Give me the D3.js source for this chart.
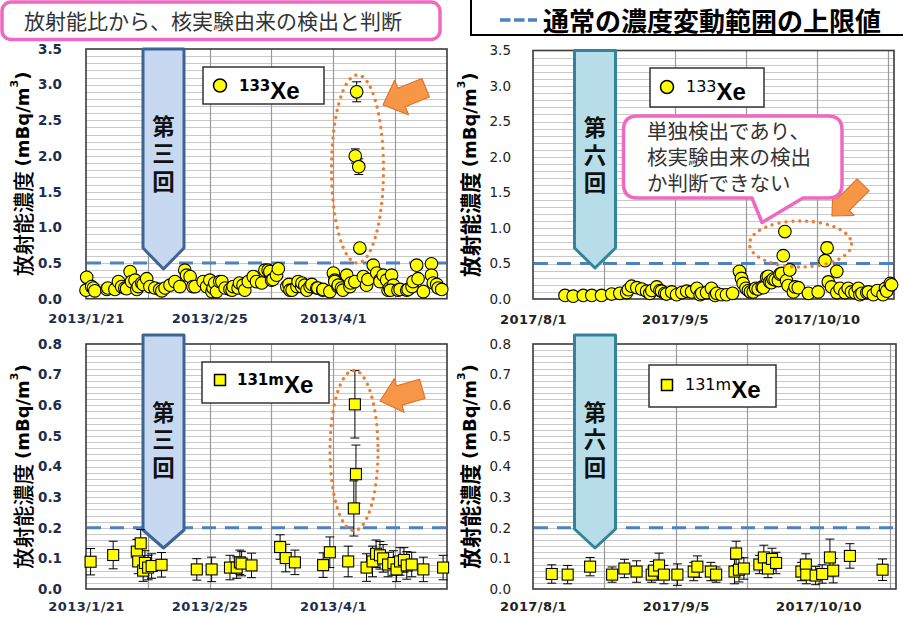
<!DOCTYPE html>
<html><head><meta charset="utf-8">
<script src="https://cdn.jsdelivr.net/npm/d3@7"></script>
<style>
html,body{margin:0;padding:0;background:#fff;}
#wrap{position:relative;width:903px;height:617px;}
svg{display:block;}
.balloon-text{position:absolute;margin:0;font-family:'Noto Sans CJK JP','Noto Sans CJK SC',sans-serif;
  font-size:20.5px;line-height:26px;color:#333;white-space:pre-line;}
</style></head>
<body>
<div id="wrap"><svg id="chart" width="903" height="617"></svg></div>
<script>
// ---------- data ----------
// sampling periods (day offsets are counted from these start dates)
const start2013 = "2013-01-21";
const start2017 = "2017-08-01";
const dateTickDays = [0, 35, 70];
const gridStepDays = 17.5;
const span2013 = 102.3;
const span2017 = 89;

const xe133Ticks = [0, 0.5, 1, 1.5, 2, 2.5, 3, 3.5];
const xe131mTicks = [0, 0.1, 0.2, 0.3, 0.4, 0.5, 0.6, 0.7, 0.8];
const xe133Limit = 0.5;   // upper bound of normal variation (mBq/m3)
const xe131mLimit = 0.2;

// [days since start, concentration mBq/m3, uncertainty]
const xe133_2013 = [
 [0.0,0.12],[0.2,0.30],[1.6,0.17],[2.1,0.15],[2.5,0.11],[5.9,0.13],[6.2,0.15],[8.2,0.13],[9.2,0.24],[10.1,0.17],
 [11.0,0.15],[11.5,0.14],[12.5,0.38],[12.9,0.24],[13.9,0.26],[14.4,0.13],[14.8,0.17],[15.8,0.22],[16.2,0.20],[17.2,0.28],
 [18.1,0.17],[19.5,0.15],[20.9,0.13],[21.5,0.11],[22.4,0.15],[23.8,0.19],[25.2,0.24],[26.6,0.17],[28.0,0.40],[28.5,0.33],
 [29.5,0.31],[30.3,0.17],[30.9,0.17],[33.2,0.24],[34.2,0.17],[35.1,0.26],[35.7,0.10],[36.0,0.15],[36.5,0.22],[37.0,0.10],
 [37.9,0.24],[38.5,0.24],[39.4,0.15],[40.8,0.13],[41.4,0.12],[41.7,0.17],[43.1,0.15],[43.5,0.22],[44.5,0.19],[45.0,0.12],
 [46.0,0.24],[47.4,0.31],[48.3,0.24],[49.8,0.22],[50.7,0.40],[51.6,0.40],[52.1,0.38],[52.6,0.26],[53.0,0.27],[54.0,0.33],
 [54.5,0.42],[56.9,0.17],[57.5,0.20],[57.8,0.12],[58.4,0.12],[59.8,0.17],[60.1,0.24],[61.1,0.17],[61.2,0.22],[62.0,0.19],
 [62.6,0.12],[63.5,0.17],[64.0,0.20],[65.4,0.15],[65.7,0.15],[67.1,0.12],[67.2,0.13],[69.1,0.10],[70.1,0.36],[70.5,0.26],
 [70.5,0.24],[71.4,0.17],[71.5,0.19],[72.4,0.15],[72.8,0.12],[73.9,0.33],[74.8,0.17],[75.0,0.22],[76.2,0.24],
 [76.7,2.90,0.14],[76.3,2.00,0.10],[77.3,1.85,0.11],[77.6,0.71,0.04],
 [78.6,0.31],[79.5,0.19],[79.9,0.27],[81.4,0.47,0.06],[82.4,0.36],[83.3,0.26],[83.3,0.24],[84.2,0.33],[85.2,0.26],[85.6,0.12],
 [86.1,0.15],[86.6,0.33],[87.1,0.19],[86.3,0.12],[88.4,0.12],[89.0,0.13],[90.9,0.12],[91.3,0.13],[92.4,0.17],[92.7,0.24],
 [93.7,0.47,0.06],[94.1,0.28],[95.6,0.10],[97.9,0.49,0.06],[97.9,0.33],[98.4,0.22],[99.4,0.20],[99.8,0.15],[100.8,0.13]
];

const xe133_2017 = [
 [7.9,0.05],[9.9,0.04],[12.4,0.05],[14.5,0.05],[16.9,0.05],[19.4,0.07],[21.4,0.08],[23.1,0.09],[23.5,0.13],[24.3,0.18],
 [25.6,0.16],[26.8,0.14],[28.0,0.11],[28.8,0.08],[29.3,0.12],[30.5,0.17],[31.3,0.12],[31.7,0.11],[32.5,0.08],[32.9,0.07],
 [34.2,0.10],[35.4,0.06],[36.7,0.09],[37.9,0.11],[39.1,0.10],[40.4,0.15],[41.2,0.06],[41.6,0.08],[42.8,0.09],[44.0,0.15],
 [44.9,0.05],[45.3,0.08],[46.5,0.06],[47.7,0.06],[49.2,0.08],[50.9,0.39],[51.4,0.29],[51.8,0.22],[52.5,0.15],[53.1,0.12],
 [53.6,0.10],[54.3,0.10],[54.9,0.15],[55.5,0.14],[56.5,0.17],[56.8,0.16],[57.6,0.31],[58.0,0.32],[58.4,0.24],[58.8,0.23],
 [59.2,0.28],[59.7,0.27],[60.5,0.26],[60.9,0.35],[61.3,0.36],[61.7,0.61],[62.1,0.95],[62.5,0.26],[62.9,0.19],[63.3,0.41],
 [64.2,0.10],[64.6,0.17],[65.4,0.16],[67.9,0.08],[70.3,0.10],[72.0,0.54,0.05],[72.5,0.72,0.08],[72.8,0.24],[73.6,0.17],
 [74.9,0.39],[74.9,0.09],[75.7,0.15],[76.9,0.09],[77.7,0.15],[78.5,0.10],[79.4,0.09],[80.2,0.15],[80.6,0.06],[81.1,0.08],
 [82.3,0.09],[82.7,0.10],[83.9,0.06],[84.9,0.12],[86.3,0.06],[86.9,0.15],[87.2,0.11],[88.1,0.22],[88.4,0.20]
];

const xe131m_2013 = [
 [1.3,0.089,0.043],[7.7,0.111,0.045],[14.4,0.122,0.040],[14.8,0.090,0.040],[15.5,0.149,0.045],[16.2,0.060,0.035],
 [16.7,0.085,0.040],[17.6,0.070,0.040],[18.6,0.075,0.040],[21.4,0.079,0.040],[31.4,0.064,0.035],[35.6,0.064,0.040],
 [40.8,0.070,0.040],[42.7,0.070,0.035],[43.6,0.087,0.040],[44.1,0.083,0.040],[46.9,0.077,0.040],[55.0,0.137,0.040],
 [56.6,0.101,0.045],[59.2,0.087,0.040],[67.2,0.078,0.040],[69.1,0.120,0.050],[74.3,0.090,0.050],
 [75.9,0.263,0.090],[76.5,0.375,0.095],[76.2,0.603,0.110],
 [79.5,0.070,0.045],[81.2,0.090,0.050],[82.2,0.115,0.045],[83.3,0.110,0.045],[84.2,0.100,0.045],[85.6,0.080,0.040],
 [87.1,0.085,0.040],[88.0,0.064,0.040],[89.0,0.090,0.045],[90.1,0.095,0.040],[90.9,0.077,0.045],[92.3,0.080,0.040],
 [95.6,0.064,0.040],[101.2,0.070,0.040]
];

const xe131m_2017 = [
 [4.6,0.049,0.030],[8.5,0.047,0.030],[14.0,0.073,0.030],[19.4,0.047,0.025],[22.4,0.067,0.030],[25.4,0.057,0.035],
 [29.1,0.047,0.025],[29.7,0.060,0.030],[30.9,0.077,0.040],[32.1,0.047,0.030],[35.4,0.047,0.035],[39.4,0.057,0.030],
 [40.3,0.073,0.035],[43.6,0.057,0.030],[44.9,0.047,0.025],[49.4,0.057,0.040],[49.8,0.116,0.040],[50.5,0.063,0.040],
 [51.7,0.067,0.035],[55.5,0.080,0.030],[56.6,0.103,0.040],[57.6,0.067,0.030],[58.6,0.098,0.035],[59.6,0.085,0.035],
 [65.8,0.057,0.030],[66.9,0.080,0.035],[67.0,0.047,0.030],[69.3,0.044,0.030],[70.9,0.049,0.030],[72.8,0.103,0.060],
 [73.6,0.060,0.040],[77.7,0.108,0.040],[85.7,0.063,0.035]
];

const balloonLines = ["単独検出であり、", "核実験由来の検出", "か判断できない"];

// ---------- drawing ----------
const svg = d3.select("#chart");
const fmtDate = d3.timeFormat("%Y/%-m/%-d");
const parseDate = d3.timeParse("%Y-%m-%d");
const CJK = "'Noto Sans CJK JP', 'Noto Sans CJK SC', sans-serif";
const NUM = "'DejaVu Sans', Verdana, sans-serif";
const PINK = "#ef69c2";
const LIMIT_BLUE = "#4f81bd";
const ORANGE = "#ed7d31";

const panels = [
  { data: xe133_2013, start: start2013, span: span2013, ticks: xe133Ticks, minor: 0.1, limit: xe133Limit,
    marker: "circle", left: 86, right: 447, top: 49, bottom: 298.7, bold: true, yPad: 24, xPad: 15,
    titleX: 22, event: { label: "第三回", fill: "#c6d9f1", stroke: "#3e6394", top: 49, shoulder: 248, tip: 269, cx: 163.5 },
    legend: { x: 203, y: 67, w: 121, h: 37, mx: 220, my: 85.5, mass: "133", tx: 239, base: 99 } },
  { data: xe133_2017, start: start2017, span: span2017, ticks: xe133Ticks, minor: 0.1, limit: xe133Limit,
    marker: "circle", left: 533, right: 894, top: 50.5, bottom: 299, bold: false, yPad: 22, xPad: 16,
    titleX: 469, event: { label: "第六回", fill: "#b7dee8", stroke: "#31849b", top: 50.5, shoulder: 248, tip: 268, cx: 595 },
    legend: { x: 650, y: 68, w: 114, h: 39, mx: 667, my: 87, mass: "133", tx: 686, base: 100 } },
  { data: xe131m_2013, start: start2013, span: span2013, ticks: xe131mTicks, minor: 0.02, limit: xe131mLimit,
    marker: "square", left: 86, right: 447, top: 344, bottom: 589, bold: true, yPad: 24, xPad: 12.5,
    titleX: 22, event: { label: "第三回", fill: "#c6d9f1", stroke: "#3e6394", top: 335, shoulder: 530, tip: 548, cx: 163.5 },
    legend: { x: 202, y: 362, w: 127, h: 41, mx: 220, my: 380, mass: "131m", tx: 237, base: 393 } },
  { data: xe131m_2017, start: start2017, span: span2017, ticks: xe131mTicks, minor: 0.02, limit: xe131mLimit,
    marker: "square", left: 533, right: 896, top: 344, bottom: 589, bold: false, yPad: 22, xPad: 12.5,
    titleX: 469, event: { label: "第六回", fill: "#b7dee8", stroke: "#31849b", top: 335, shoulder: 529, tip: 548, cx: 595 },
    legend: { x: 649, y: 365, w: 127, h: 42, mx: 667, my: 385, mass: "131m", tx: 685, base: 398 } }
];

function drawPanel(p) {
  const g = svg.append("g");
  const x = d3.scaleLinear().domain([0, p.span]).range([p.left, p.right]);
  const y = d3.scaleLinear().domain([0, d3.max(p.ticks)]).range([p.bottom, p.top]);
  const startDate = parseDate(p.start);

  g.append("rect").attr("x", p.left).attr("y", p.top)
    .attr("width", p.right - p.left).attr("height", p.bottom - p.top).attr("fill", "#fff");

  // horizontal grid
  const nMinor = Math.round(d3.max(p.ticks) / p.minor);
  g.append("g").selectAll("line").data(d3.range(1, nMinor)).join("line")
    .attr("x1", p.left).attr("x2", p.right)
    .attr("y1", i => Math.round(y(i * p.minor)) + 0.5).attr("y2", i => Math.round(y(i * p.minor)) + 0.5)
    .attr("stroke", "#c9c9c9").attr("stroke-width", 1);

  // vertical grid
  g.append("g").selectAll("line").data(d3.range(gridStepDays, p.span, gridStepDays)).join("line")
    .attr("x1", d => Math.round(x(d)) + 0.5).attr("x2", d => Math.round(x(d)) + 0.5)
    .attr("y1", p.top).attr("y2", p.bottom)
    .attr("stroke", "#9a9a9a").attr("stroke-width", 1.2);

  // frame
  g.append("rect").attr("x", p.left).attr("y", p.top)
    .attr("width", p.right - p.left).attr("height", p.bottom - p.top)
    .attr("fill", "none").attr("stroke", "#3a3a3a").attr("stroke-width", 1.6);

  // normal-range upper limit
  g.append("line").attr("x1", p.left + 1).attr("x2", p.right - 1)
    .attr("y1", y(p.limit)).attr("y2", y(p.limit))
    .attr("stroke", LIMIT_BLUE).attr("stroke-width", 3).attr("stroke-dasharray", "14,9");

  // nuclear test marker (downward block arrow with vertical caption)
  const e = p.event, hw = 20.5;
  g.append("path")
    .attr("d", `M${e.cx - hw},${e.top} H${e.cx + hw} V${e.shoulder} L${e.cx},${e.tip} L${e.cx - hw},${e.shoulder} Z`)
    .attr("fill", e.fill).attr("stroke", e.stroke).attr("stroke-width", 3).attr("stroke-linejoin", "round");
  g.append("text")
    .attr("x", e.cx).attr("y", e.top + 66)
    .style("writing-mode", "vertical-rl")
    .attr("letter-spacing", 5)
    .attr("font-family", CJK).attr("font-weight", 700).attr("font-size", 22.5).attr("fill", "#111")
    .text(e.label);

  // error bars
  const withErr = p.data.filter(d => d[2]);
  const eb = g.append("g").attr("stroke", "#000").attr("stroke-width", 1);
  eb.selectAll("line.v").data(withErr).join("line").attr("class", "v")
    .attr("x1", d => x(d[0])).attr("x2", d => x(d[0]))
    .attr("y1", d => y(d[1] - d[2])).attr("y2", d => y(d[1] + d[2]));
  eb.selectAll("line.t").data(withErr).join("line").attr("class", "t")
    .attr("x1", d => x(d[0]) - 4.5).attr("x2", d => x(d[0]) + 4.5)
    .attr("y1", d => y(d[1] + d[2])).attr("y2", d => y(d[1] + d[2]));
  eb.selectAll("line.b").data(withErr).join("line").attr("class", "b")
    .attr("x1", d => x(d[0]) - 4.5).attr("x2", d => x(d[0]) + 4.5)
    .attr("y1", d => y(d[1] - d[2])).attr("y2", d => y(d[1] - d[2]));

  // markers
  const mk = g.append("g").attr("fill", "#ffff00").attr("stroke", "#000").attr("stroke-width", 1.1);
  if (p.marker === "circle") {
    mk.selectAll("circle").data(p.data).join("circle")
      .attr("cx", d => x(d[0])).attr("cy", d => y(d[1])).attr("r", 6.3);
  } else {
    mk.selectAll("rect").data(p.data).join("rect")
      .attr("x", d => x(d[0]) - 5.5).attr("y", d => y(d[1]) - 5.5).attr("width", 11).attr("height", 11);
  }

  // axes
  const tickColor = p.bold ? "#1f2d4d" : "#222";
  const yAxis = g.append("g").attr("transform", `translate(${p.left},0)`)
    .call(d3.axisLeft(y).tickValues(p.ticks).tickFormat(d3.format(".1f")).tickSize(0).tickPadding(p.yPad));
  yAxis.select(".domain").remove();
  yAxis.selectAll("text").attr("font-family", NUM).attr("font-size", 13.5)
    .attr("font-weight", p.bold ? 700 : 400).attr("fill", tickColor);

  const xAxis = g.append("g").attr("transform", `translate(0,${p.bottom})`)
    .call(d3.axisBottom(x).tickValues(dateTickDays)
      .tickFormat(d => fmtDate(d3.timeDay.offset(startDate, d))).tickSize(0).tickPadding(p.xPad));
  xAxis.select(".domain").remove();
  xAxis.selectAll("text").attr("font-family", NUM).attr("font-size", 13)
    .attr("font-weight", 700).attr("fill", tickColor).attr("letter-spacing", 0.4);

  // y title
  const cy = (p.top + p.bottom) / 2;
  const t = g.append("text").attr("transform", `translate(${p.titleX},${cy}) rotate(-90)`)
    .attr("text-anchor", "middle").attr("dominant-baseline", "central").attr("fill", "#000");
  t.append("tspan").attr("font-family", CJK).attr("font-size", 21)
    .attr("font-weight", p.bold ? 500 : 700).text("放射能濃度 ");
  t.append("tspan").attr("font-family", NUM).attr("font-size", 18).attr("font-weight", 700).text("(mBq/m");
  t.append("tspan").attr("font-family", NUM).attr("font-size", 11).attr("font-weight", 700).attr("dy", -8).text("3");
  t.append("tspan").attr("font-family", NUM).attr("font-size", 18).attr("font-weight", 700).attr("dy", 8).text(")");

  // legend
  const L = p.legend;
  g.append("rect").attr("x", L.x).attr("y", L.y).attr("width", L.w).attr("height", L.h)
    .attr("fill", "#fff").attr("stroke", "#333").attr("stroke-width", 1.5);
  if (p.marker === "circle") {
    g.append("circle").attr("cx", L.mx).attr("cy", L.my).attr("r", 6.5)
      .attr("fill", "#ffff00").attr("stroke", "#000").attr("stroke-width", 1.5);
  } else {
    g.append("rect").attr("x", L.mx - 5.5).attr("y", L.my - 5.5).attr("width", 11).attr("height", 11)
      .attr("fill", "#ffff00").attr("stroke", "#000").attr("stroke-width", 1.5);
  }
  const lt = g.append("text").attr("x", L.tx).attr("y", L.base).attr("fill", "#000");
  lt.append("tspan").attr("font-family", NUM).attr("font-size", p.bold ? 15 : 16)
    .attr("font-weight", p.bold ? 700 : 400).attr("dy", -8.5).text(L.mass);
  lt.append("tspan").attr("font-family", "'Liberation Sans', Arial, sans-serif").attr("font-size", 24)
    .attr("font-weight", 700).attr("dy", 8.5).text("Xe");

  return { x, y };
}

panels.forEach(drawPanel);

// ---------- annotations ----------
const dotted = { fill: "none", stroke: ORANGE, "stroke-width": 3.3, "stroke-dasharray": "0.1,6.8", "stroke-linecap": "round" };
function ellipse(cx, cy, rx, ry) {
  const el = svg.append("ellipse").attr("cx", cx).attr("cy", cy).attr("rx", rx).attr("ry", ry);
  Object.entries(dotted).forEach(([k, v]) => el.attr(k, v));
}
ellipse(357.5, 169, 26, 94);
ellipse(800.5, 244, 51, 23);
ellipse(354, 450.5, 24, 80);

function blockArrow(tx, ty, angle, len, headLen, headHalf, shaftHalf) {
  const pts = [[0, 0], [headLen, -headHalf], [headLen, -shaftHalf], [len, -shaftHalf],
               [len, shaftHalf], [headLen, shaftHalf], [headLen, headHalf]];
  svg.append("path").attr("d", d3.line()(pts) + "Z")
    .attr("transform", `translate(${tx},${ty}) rotate(${angle})`)
    .attr("fill", "#f79646").attr("stroke", "#dd7530").attr("stroke-width", 1.2).attr("stroke-linejoin", "round");
}
blockArrow(383, 105, -22, 46, 20, 18.5, 10);
blockArrow(832, 216, -45, 44, 16, 15, 8.5);
blockArrow(380, 401, -16, 44, 20, 17.5, 10);

// speech balloon (outline in SVG, wrapped caption as one HTML text block on top)
(function () {
  const x0 = 623.5, y0 = 116, x1 = 842, y1 = 198, r = 14;
  const d = `M${x0 + r},${y0} H${x1 - r} Q${x1},${y0} ${x1},${y0 + r} V${y1 - r} Q${x1},${y1} ${x1 - r},${y1}` +
            ` H803 L762,222.5 L752,${y1} H${x0 + r} Q${x0},${y1} ${x0},${y1 - r} V${y0 + r} Q${x0},${y0} ${x0 + r},${y0} Z`;
  svg.append("path").attr("d", d).attr("fill", "#fff").attr("stroke", PINK).attr("stroke-width", 3.5)
    .attr("stroke-linejoin", "round");
  d3.select("#wrap").append("div").attr("class", "balloon-text")
    .style("left", "647px").style("top", "117px")
    .text(balloonLines.join("\n"));
})();

// ---------- headers ----------
svg.append("rect").attr("x", 2).attr("y", 2).attr("width", 438).attr("height", 37.5).attr("rx", 9)
  .attr("fill", "#fff").attr("stroke", PINK).attr("stroke-width", 3.5);
svg.append("text").attr("x", 24).attr("y", 20).attr("dominant-baseline", "central")
  .attr("font-family", CJK).attr("font-size", 21).attr("fill", "#333")
  .text("放射能比から、核実験由来の検出と判断");

svg.append("rect").attr("x", 471).attr("y", -2).attr("width", 440).attr("height", 37)
  .attr("fill", "#fff").attr("stroke", "#000").attr("stroke-width", 2);
svg.append("line").attr("x1", 500).attr("x2", 537).attr("y1", 20).attr("y2", 20)
  .attr("stroke", LIMIT_BLUE).attr("stroke-width", 3.5).attr("stroke-dasharray", "10.5,3.5");
svg.append("text").attr("x", 543).attr("y", 19).attr("dominant-baseline", "central")
  .attr("font-family", CJK).attr("font-size", 26).attr("font-weight", 700).attr("fill", "#000")
  .text("通常の濃度変動範囲の上限値");
</script>
</body></html>
